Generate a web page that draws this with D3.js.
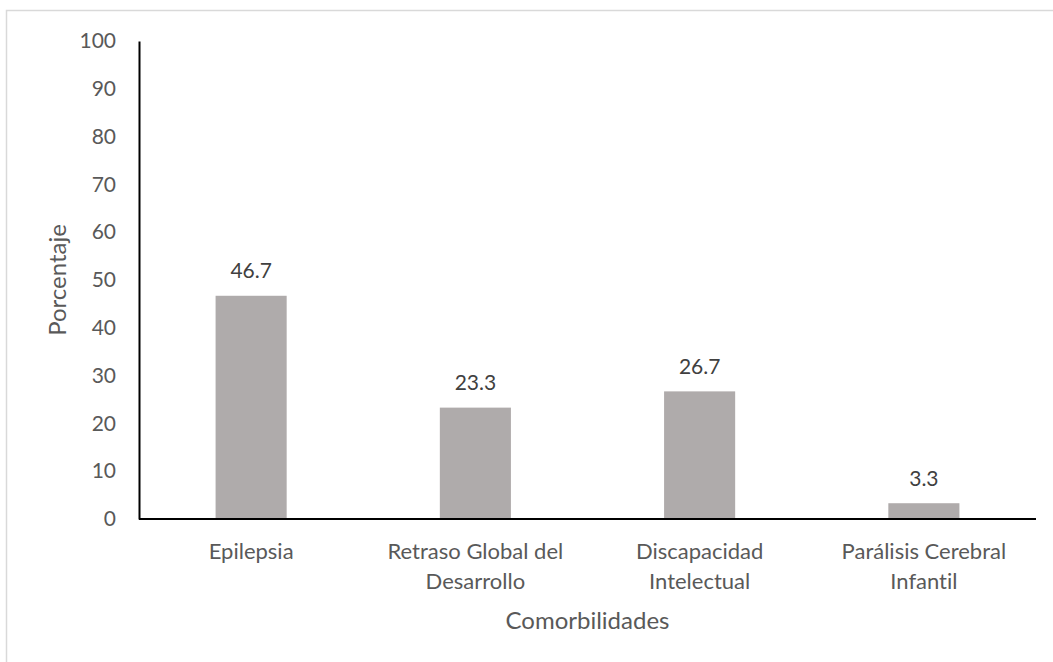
<!DOCTYPE html>
<html>
<head>
<meta charset="utf-8">
<script src="https://cdn.jsdelivr.net/npm/d3@7"></script>
<style>
  html, body { margin: 0; padding: 0; background: #fff; }
  svg { display: block; }
  text { font-family: Lato, "Open Sans", sans-serif; font-variant-ligatures: none; }
</style>
</head>
<body>
<svg id="chart" width="1053" height="662"></svg>
<script>
const categories = [
  ["Epilepsia"],
  ["Retraso Global del", "Desarrollo"],
  ["Discapacidad", "Intelectual"],
  ["Parálisis Cerebral", "Infantil"]
];
const values = [46.7, 23.3, 26.7, 3.3];
const yTicks = [0, 10, 20, 30, 40, 50, 60, 70, 80, 90, 100];
const xTitle = "Comorbilidades";
const yTitle = "Porcentaje";

const W = 1053, H = 662;
const m = { left: 139, right: 1036, top: 41, bottom: 519 };
const svg = d3.select("#chart");

// outer border (chart area frame, extends past right/bottom edges)
svg.append("rect")
  .attr("x", 6.5).attr("y", 10.5)
  .attr("width", W + 10).attr("height", H + 10)
  .attr("fill", "none").attr("stroke", "#d9d9d9").attr("stroke-width", 1.5);

const keys = categories.map(c => c.join(" "));
const x = d3.scaleBand().domain(keys).range([m.left, m.right])
  .paddingInner(0.683).paddingOuter(0.3415);
const y = d3.scaleLinear().domain([0, 100]).range([m.bottom, m.top]);

// bars
svg.append("g").selectAll("rect").data(values).join("rect")
  .attr("x", (d, i) => x(keys[i]))
  .attr("y", d => y(d))
  .attr("width", x.bandwidth())
  .attr("height", d => y(0) - y(d))
  .attr("fill", "#afabab");

// data labels
svg.append("g").selectAll("text").data(values).join("text")
  .attr("x", (d, i) => x(keys[i]) + x.bandwidth() / 2)
  .attr("y", d => y(d) - 25)
  .attr("dy", "0.35em")
  .attr("text-anchor", "middle")
  .attr("fill", "#404040")
  .attr("font-size", 21)
  .text(d => d.toFixed(1));

// y axis
const yAxis = d3.axisLeft(y).tickValues(yTicks).tickSize(0).tickPadding(23);
const gy = svg.append("g").attr("transform", `translate(${m.left},0)`).call(yAxis);
gy.select(".domain").attr("stroke", "#000").attr("stroke-width", 2);
gy.selectAll("text").attr("fill", "#595959").attr("font-size", 21)
  .attr("font-family", "Lato, 'Open Sans', sans-serif");

// x axis
const xAxis = d3.axisBottom(x).tickSize(0).tickFormat(() => "");
const gx = svg.append("g").attr("transform", `translate(0,${m.bottom})`).call(xAxis);
gx.select(".domain").attr("stroke", "#000").attr("stroke-width", 2)
  .attr("d", `M${m.left},0H${m.right}`);
gx.selectAll(".tick").each(function(d, i) {
  const t = d3.select(this).append("text")
    .attr("text-anchor", "middle")
    .attr("fill", "#595959")
    .attr("font-size", 22)
    .attr("font-family", "Lato, 'Open Sans', sans-serif");
  categories[i].forEach((line, j) => {
    t.append("tspan").attr("x", 0).attr("y", 32 + j * 30).attr("dy", "0.35em").text(line);
  });
});

// axis titles
svg.append("text")
  .attr("x", (m.left + m.right) / 2).attr("y", 621).attr("dy", "0.35em")
  .attr("text-anchor", "middle").attr("fill", "#595959").attr("font-size", 24)
  .text(xTitle);
svg.append("text")
  .attr("transform", `translate(58,${(m.top + m.bottom) / 2}) rotate(-90)`)
  .attr("dy", "0.35em")
  .attr("text-anchor", "middle").attr("fill", "#595959").attr("font-size", 24)
  .text(yTitle);
</script>
</body>
</html>
